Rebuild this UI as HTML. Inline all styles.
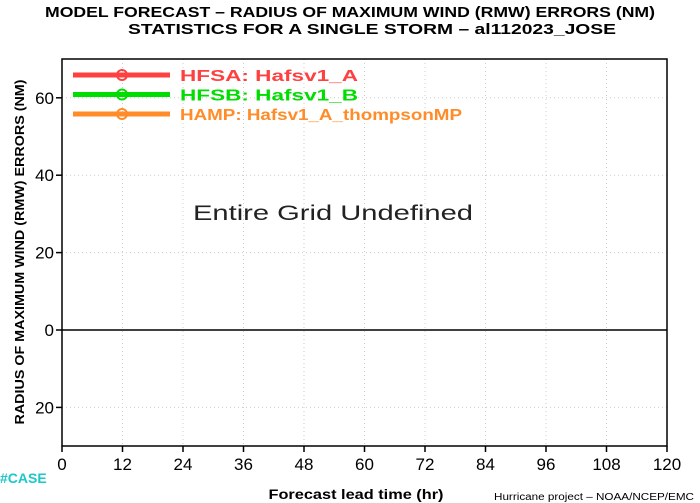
<!DOCTYPE html>
<html><head><meta charset="utf-8"><style>body{margin:0;background:#fff}svg{display:block}text{font-family:"Liberation Sans",sans-serif}</style></head>
<body>
<svg width="700" height="503" id="c">
<text x="350" y="17" text-anchor="middle" font-size="15" font-weight="bold" textLength="610" lengthAdjust="spacingAndGlyphs">MODEL FORECAST – RADIUS OF MAXIMUM WIND (RMW) ERRORS (NM)</text>
<text x="372" y="34" text-anchor="middle" font-size="15" font-weight="bold" textLength="488" lengthAdjust="spacingAndGlyphs">STATISTICS FOR A SINGLE STORM – al112023_JOSE</text>
<g id="grid"></g>
<rect x="62" y="59" width="605" height="387" fill="none" stroke="#000" stroke-width="1.5"/>
<g id="axes"></g>
<text x="333" y="220" text-anchor="middle" font-size="21" fill="#222" textLength="280" lengthAdjust="spacingAndGlyphs">Entire Grid Undefined</text>
<g id="legend"></g>
<text transform="translate(24,252) rotate(-90)" text-anchor="middle" font-size="13" font-weight="bold" textLength="345" lengthAdjust="spacingAndGlyphs">RADIUS OF MAXIMUM WIND (RMW) ERRORS (NM)</text>
<text x="0" y="483" font-size="14" font-weight="bold" fill="#1cc8c8">#CASE</text>
<text x="356" y="499" text-anchor="middle" font-size="14" font-weight="bold" textLength="175" lengthAdjust="spacingAndGlyphs">Forecast lead time (hr)</text>
<text x="694" y="500" text-anchor="end" font-size="10" textLength="200" lengthAdjust="spacingAndGlyphs">Hurricane project – NOAA/NCEP/EMC</text>
</svg>
<script>
const xTicks=[0,12,24,36,48,60,72,84,96,108,120];
const yTicks=[-20,0,20,40,60];
const seriesNames=["HFSA:  Hafsv1_A","HFSB:  Hafsv1_B","HAMP:  Hafsv1_A_thompsonMP"];
const seriesColors=["#ff4040","#00dd00","#ff8c28"];
const legendWidths=[178,178,282];
const NS="http://www.w3.org/2000/svg";
const X=v=>62+(v/120)*605, Y=v=>330-(v/20)*77.4;
function mk(t,a,p){const e=document.createElementNS(NS,t);for(const k in a)e.setAttribute(k,a[k]);p.appendChild(e);return e;}
const g=document.getElementById('grid'),ax=document.getElementById('axes'),lg=document.getElementById('legend');
xTicks.forEach(t=>{
 if(t>0&&t<120){const l=mk('line',{x1:X(t),x2:X(t),y1:59,y2:446,stroke:'#ccc','stroke-dasharray':'1,3'},g);
 
 }
 const tk=mk('line',{x1:X(t),x2:X(t),y1:446,y2:452,stroke:'#000','stroke-width':1.5},ax);
 
 
 const tx=mk('text',{x:X(t),y:470,'text-anchor':'middle','font-size':17},ax);tx.textContent=t;
 
 
});
yTicks.forEach(t=>{
 const l=mk('line',{x1:62,x2:667,y1:Y(t),y2:Y(t),stroke:t===0?'#000':'#ccc','stroke-dasharray':t===0?'':'1,3','stroke-width':t===0?1.5:1},g);
 
 
 const tk=mk('line',{x1:56,x2:62,y1:Y(t),y2:Y(t),stroke:'#000','stroke-width':1.5},ax);
 
 
 const tx=mk('text',{x:54,y:Y(t)+6,'text-anchor':'end','font-size':17},ax);tx.textContent=t<0?Math.abs(t):t;
 
 
});
seriesNames.forEach((n,i)=>{
 const y=75+i*19.5,c=seriesColors[i];
 const e=mk('g',{},lg);
 
 
 mk('line',{x1:73,x2:170,y1:y,y2:y,stroke:c,'stroke-width':5},e);
 mk('circle',{cx:122,cy:y,r:5,fill:'none',stroke:c,'stroke-width':2},e);
 const t=mk('text',{x:180,y:y+6,'font-size':16,'font-weight':'bold',fill:c,textLength:legendWidths[i],lengthAdjust:'spacingAndGlyphs'},e);t.textContent=n;
});
</script>
</body></html>
